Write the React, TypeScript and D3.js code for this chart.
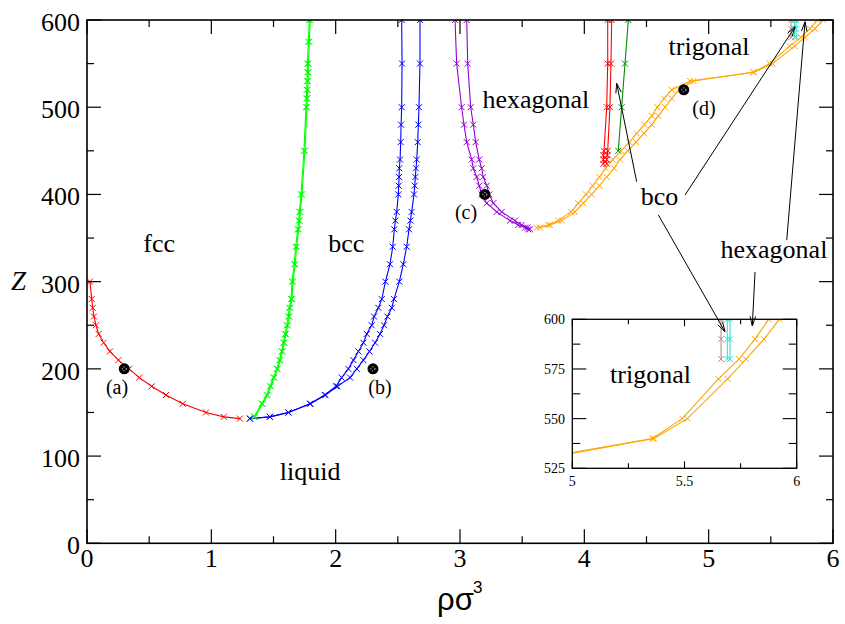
import React from "react";
import * as d3 from "d3";

// ---------- data (rho sigma^3 , Z) ----------
const fccZ = [300, 280, 270, 260, 250, 240, 230, 220, 210, 200, 190, 180, 170, 160, 150, 145, 143];
const fccX = [0.024, 0.038, 0.046, 0.056, 0.072, 0.094, 0.134, 0.185, 0.252, 0.338, 0.42, 0.52, 0.635, 0.77, 0.957, 1.1, 1.23];

const bccZ = [143, 145, 150, 160, 170, 180, 190, 200, 210, 220, 230, 240, 250, 260, 270, 280, 300, 320, 340, 360, 370, 380, 400, 410, 420, 430, 440, 460, 480, 500, 550, 600];
const bccXa = [1.31, 1.471, 1.619, 1.793, 1.912, 2.003, 2.048, 2.102, 2.143, 2.183, 2.223, 2.25, 2.29, 2.309, 2.344, 2.371, 2.4, 2.437, 2.459, 2.472, 2.48, 2.491, 2.504, 2.507, 2.51, 2.512, 2.518, 2.523, 2.526, 2.531, 2.534, 2.531];
const bccXb = [1.31, 1.471, 1.621, 1.797, 1.918, 2.014, 2.116, 2.17, 2.223, 2.272, 2.317, 2.357, 2.389, 2.416, 2.451, 2.469, 2.512, 2.544, 2.571, 2.59, 2.601, 2.611, 2.63, 2.636, 2.641, 2.646, 2.652, 2.66, 2.665, 2.67, 2.678, 2.678];

const grZ = [145, 160, 170, 180, 190, 200, 210, 220, 230, 240, 250, 260, 270, 280, 300, 320, 340, 360, 370, 380, 400, 450, 500, 510, 520, 530, 540, 550, 575, 600];
const grXa = [1.343, 1.405, 1.445, 1.472, 1.499, 1.526, 1.547, 1.566, 1.579, 1.593, 1.606, 1.619, 1.627, 1.641, 1.649, 1.667, 1.678, 1.695, 1.703, 1.708, 1.721, 1.745, 1.761, 1.764, 1.767, 1.77, 1.772, 1.772, 1.78, 1.788];
const grXb = [1.35, 1.412, 1.452, 1.479, 1.507, 1.533, 1.555, 1.573, 1.587, 1.601, 1.614, 1.627, 1.635, 1.649, 1.657, 1.675, 1.686, 1.703, 1.711, 1.716, 1.729, 1.753, 1.769, 1.772, 1.775, 1.778, 1.78, 1.781, 1.788, 1.796];

const hexZ = [600, 550, 500, 480, 460, 440, 430, 420, 410, 400, 390, 380, 370, 365, 362, 360];
const hexXa = [2.96, 2.973, 3.013, 3.032, 3.054, 3.094, 3.107, 3.134, 3.155, 3.174, 3.215, 3.295, 3.402, 3.469, 3.523, 3.549];
const hexXb = [3.054, 3.062, 3.086, 3.107, 3.126, 3.155, 3.174, 3.187, 3.215, 3.236, 3.268, 3.335, 3.442, 3.496, 3.541, 3.563];

const triZ = [362, 365, 370, 380, 390, 400, 410, 420, 430, 440, 450, 460, 470, 480, 490, 500, 510, 520, 530, 540, 550, 570, 580, 590, 600];
const triXa = [3.617, 3.711, 3.791, 3.893, 3.952, 4.013, 4.067, 4.121, 4.172, 4.228, 4.295, 4.362, 4.421, 4.483, 4.542, 4.587, 4.641, 4.703, 4.85, 5.357, 5.49, 5.651, 5.743, 5.814, 5.875];
const triXb = [3.643, 3.724, 3.818, 3.925, 3.992, 4.059, 4.121, 4.18, 4.239, 4.287, 4.349, 4.416, 4.48, 4.542, 4.595, 4.649, 4.703, 4.764, 4.877, 5.364, 5.513, 5.692, 5.774, 5.854, 5.923];

const bcoZ = [600, 550, 500, 450, 445, 440, 435];
const bcoXa = [4.188, 4.188, 4.18, 4.158, 4.153, 4.153, 4.153];
const bcoXb = [4.22, 4.214, 4.206, 4.188, 4.185, 4.18, 4.18];
const bco2Z = [600, 550, 500, 450];
const bco2X = [4.354, 4.327, 4.3, 4.273];

const topZ = [580, 590, 600];
const brownX = [5.663, 5.663, 5.663];
const cyanXa = [5.691, 5.691, 5.691];
const cyanXb = [5.703, 5.703, 5.703];

const snapNames = ["(a)", "(b)", "(c)", "(d)"];
const snapX = [0.3, 2.3, 3.2, 4.8];
const snapZ = [200, 200, 400, 520];

const xTicks = [0, 1, 2, 3, 4, 5, 6];
const yTicks = [0, 100, 200, 300, 400, 500, 600];
const insetXTicks = [5, 5.5, 6];
const insetXTickLabels = ["5", "5.5", "6"];
const insetYTicks = [525, 550, 575, 600];

// phase labels (data coordinates of text centre / baseline)
const phaseNames = ["fcc", "bcc", "liquid", "hexagonal", "trigonal", "bco", "hexagonal"];
const phaseX = [0.58, 2.085, 1.795, 3.61, 5.003, 4.605, 5.525];
const phaseZ = [334, 334, 73, 499, 560, 388, 327];

// arrows [x0, z0, x1, z1] in main-plot data coordinates
const arrows = [
  [4.421, 414.6, 4.26, 527.4],
  [4.81, 399.3, 5.695, 592.3],
  [4.595, 376.6, 5.131, 242.6],
  [5.628, 347.7, 5.775, 598.0],
  [5.373, 311.1, 5.351, 249.2],
];

const C = {
  red: "#ff0000",
  blue: "#0000ff",
  green: "#00ff00",
  violet: "#9400d3",
  orange: "#ffa500",
  green4: "#008b00",
  brown: "#c08a8a",
  cyan: "#40e0d0",
};

const SERIF =
  "'Liberation Serif', Tinos, 'Nimbus Roman', 'Nimbus Roman No9 L', FreeSerif, 'Times New Roman', Times, 'DejaVu Serif', 'Noto Serif', serif";
const SANS = "'Liberation Sans', Arial, 'DejaVu Sans', sans-serif";

type Series = { xs: number[]; zs: number[]; color: string };

const mainSeries: Series[] = [
  { xs: fccX, zs: fccZ, color: C.red },
  { xs: bccXa, zs: bccZ, color: C.blue },
  { xs: bccXb, zs: bccZ, color: C.blue },
  { xs: grXa, zs: grZ, color: C.green },
  { xs: grXb, zs: grZ, color: C.green },
  { xs: hexXa, zs: hexZ, color: C.violet },
  { xs: hexXb, zs: hexZ, color: C.violet },
  { xs: triXa, zs: triZ, color: C.orange },
  { xs: triXb, zs: triZ, color: C.orange },
  { xs: bcoXa, zs: bcoZ, color: C.red },
  { xs: bcoXb, zs: bcoZ, color: C.red },
  { xs: bco2X, zs: bco2Z, color: C.green4 },
  { xs: brownX, zs: topZ, color: C.brown },
  { xs: cyanXa, zs: topZ, color: C.cyan },
  { xs: cyanXb, zs: topZ, color: C.cyan },
];

const insetSeries: Series[] = [
  { xs: triXa, zs: triZ, color: C.orange },
  { xs: triXb, zs: triZ, color: C.orange },
  { xs: brownX, zs: topZ, color: C.brown },
  { xs: cyanXa, zs: topZ, color: C.cyan },
  { xs: cyanXb, zs: topZ, color: C.cyan },
];

function SeriesG({ s, x, y, m }: { s: Series; x: any; y: any; m: number }) {
  const pts = s.xs.map((v, i) => [v, s.zs[i]] as [number, number]);
  const line = d3.line<[number, number]>().x((p) => x(p[0])).y((p) => y(p[1]));
  return (
    <g>
      <path d={line(pts) || ""} fill="none" stroke={s.color} strokeWidth={1.1} />
      {pts.map((p, i) => (
        <path
          key={i}
          transform={`translate(${x(p[0])},${y(p[1])})`}
          d={`M${-m},${-m}L${m},${m}M${-m},${m}L${m},${-m}`}
          stroke={s.color}
          strokeWidth={1}
        />
      ))}
    </g>
  );
}

function Arrow({ x0, y0, x1, y1 }: { x0: number; y0: number; x1: number; y1: number }) {
  const ang = Math.atan2(y1 - y0, x1 - x0);
  const L = 10;
  const a = (16 * Math.PI) / 180;
  const p1 = [x1 - L * Math.cos(ang - a), y1 - L * Math.sin(ang - a)];
  const p2 = [x1 - L * Math.cos(ang + a), y1 - L * Math.sin(ang + a)];
  return (
    <g stroke="#000" strokeWidth={1} fill="none">
      <line x1={x0} y1={y0} x2={x1} y2={y1} />
      <path d={`M${p1[0]},${p1[1]}L${x1},${y1}L${p2[0]},${p2[1]}`} />
    </g>
  );
}

export default function App() {
  const W = 845;
  const H = 624;
  const x = d3.scaleLinear().domain([0, 6]).range([87, 833]);
  const y = d3.scaleLinear().domain([0, 600]).range([543.3, 20]);
  const xi = d3.scaleLinear().domain([5, 6]).range([572.3, 796.7]);
  const yi = d3.scaleLinear().domain([525, 600]).range([468.3, 319.3]);

  const [x0, x1] = x.range();
  const [yb, yt] = y.range();
  const [ix0, ix1] = xi.range();
  const [iyb, iyt] = yi.range();

  const xMinor = d3.range(0, 6.01, 0.5);
  const yMinor = d3.range(0, 601, 50);
  const ixMinor = d3.range(5, 6.001, 0.25);
  const iyMinor = d3.range(525, 600.1, 12.5);

  const majX = 14, minX = 7;
  const serif = { fontFamily: SERIF };

  return (
    <svg width={W} height={H} style={{ position: "absolute", left: 0, top: 0, background: "#fff" }}>
      <defs>
        <clipPath id="mainClip">
          <rect x={x0} y={yt} width={x1 - x0} height={yb - yt} />
        </clipPath>
        <clipPath id="insetClip">
          <rect x={ix0} y={iyt} width={ix1 - ix0} height={iyb - iyt} />
        </clipPath>
      </defs>
      <rect x={0} y={0} width={W} height={H} fill="#fff" />

      {/* main series */}
      <g clipPath="url(#mainClip)">
        {mainSeries.map((s, i) => (
          <SeriesG key={i} s={s} x={x} y={y} m={3} />
        ))}
      </g>

      {/* main ticks */}
      <g stroke="#000" strokeWidth={1.2}>
        {xMinor.map((v, i) => {
          const len = Math.abs(v - Math.round(v)) < 1e-6 ? majX : minX;
          return (
            <g key={"xt" + i}>
              <line x1={x(v)} x2={x(v)} y1={yb} y2={yb - len} />
              <line x1={x(v)} x2={x(v)} y1={yt} y2={yt + len} />
            </g>
          );
        })}
        {yMinor.map((v, i) => {
          const len = v % 100 === 0 ? majX : minX;
          return (
            <g key={"yt" + i}>
              <line x1={x0} x2={x0 + len} y1={y(v)} y2={y(v)} />
              <line x1={x1} x2={x1 - len} y1={y(v)} y2={y(v)} />
            </g>
          );
        })}
      </g>
      <rect x={x0} y={yt} width={x1 - x0} height={yb - yt} fill="none" stroke="#000" strokeWidth={1.6} />

      {/* main tick labels */}
      <g style={{ ...serif, fontSize: 26 }} fill="#000">
        {xTicks.map((v) => (
          <text key={"xl" + v} x={x(v)} y={567} textAnchor="middle">
            {v}
          </text>
        ))}
        {yTicks.map((v) => (
          <text key={"yl" + v} x={80} y={y(v) + 11} textAnchor="end">
            {v}
          </text>
        ))}
      </g>

      {/* axis titles */}
      <text x={11} y={290} style={{ ...serif, fontSize: 27, fontStyle: "italic" }}>
        Z
      </text>
      <text x={437} y={610} style={{ fontFamily: SANS, fontSize: 31 }}>
        ρσ
      </text>
      <text x={473} y={593} style={{ fontFamily: SANS, fontSize: 17 }}>
        3
      </text>

      {/* phase labels */}
      <g style={{ ...serif, fontSize: 26 }} fill="#000" textAnchor="middle">
        {phaseNames.map((t, i) => (
          <text key={"ph" + i} x={x(phaseX[i])} y={y(phaseZ[i])}>
            {t}
          </text>
        ))}
      </g>

      {/* snapshots */}
      {snapNames.map((t, i) => {
        const cx = x(snapX[i]);
        const cy = y(snapZ[i]);
        const lx = [117, 380, 466, 704][i];
        return (
          <g key={"sn" + i}>
            <circle cx={cx} cy={cy} r={5.5} fill="#000" />
            <circle cx={cx} cy={cy} r={2} fill="none" stroke="#fff" strokeWidth={0.8} strokeDasharray="1.2 1.4" />
            <text x={lx} y={cy + 25} style={{ ...serif, fontSize: 20 }} textAnchor="middle">
              {t}
            </text>
          </g>
        );
      })}

      {/* inset */}
      <rect x={ix0} y={iyt} width={ix1 - ix0} height={iyb - iyt} fill="#fff" stroke="none" />
      <g clipPath="url(#insetClip)">
        {insetSeries.map((s, i) => (
          <SeriesG key={i} s={s} x={xi} y={yi} m={3} />
        ))}
      </g>
      <g stroke="#000" strokeWidth={1.1}>
        {ixMinor.map((v, i) => {
          const len = Math.abs(v * 2 - Math.round(v * 2)) < 1e-6 ? 7 : 5;
          return (
            <g key={"ixt" + i}>
              <line x1={xi(v)} x2={xi(v)} y1={iyb} y2={iyb - len} />
              <line x1={xi(v)} x2={xi(v)} y1={iyt} y2={iyt + len} />
            </g>
          );
        })}
        {iyMinor.map((v, i) => {
          const len = Math.abs((v - 525) % 25) < 1e-6 ? 14 : 8;
          return (
            <g key={"iyt" + i}>
              <line x1={ix0} x2={ix0 + len} y1={yi(v)} y2={yi(v)} />
              <line x1={ix1} x2={ix1 - len} y1={yi(v)} y2={yi(v)} />
            </g>
          );
        })}
      </g>
      <rect x={ix0} y={iyt} width={ix1 - ix0} height={iyb - iyt} fill="none" stroke="#000" strokeWidth={1.3} />
      <g style={{ ...serif, fontSize: 14 }} fill="#000">
        {insetXTicks.map((v, i) => (
          <text key={"ixl" + v} x={xi(v)} y={486} textAnchor="middle">
            {insetXTickLabels[i]}
          </text>
        ))}
        {insetYTicks.map((v) => (
          <text key={"iyl" + v} x={565} y={yi(v) + 5} textAnchor="end">
            {v}
          </text>
        ))}
      </g>
      <text x={650.5} y={382.7} style={{ ...serif, fontSize: 26 }} textAnchor="middle">
        trigonal
      </text>

      {/* arrows */}
      {arrows.map((a, i) => (
        <Arrow key={"ar" + i} x0={x(a[0])} y0={y(a[1])} x1={x(a[2])} y1={y(a[3])} />
      ))}
    </svg>
  );
}
